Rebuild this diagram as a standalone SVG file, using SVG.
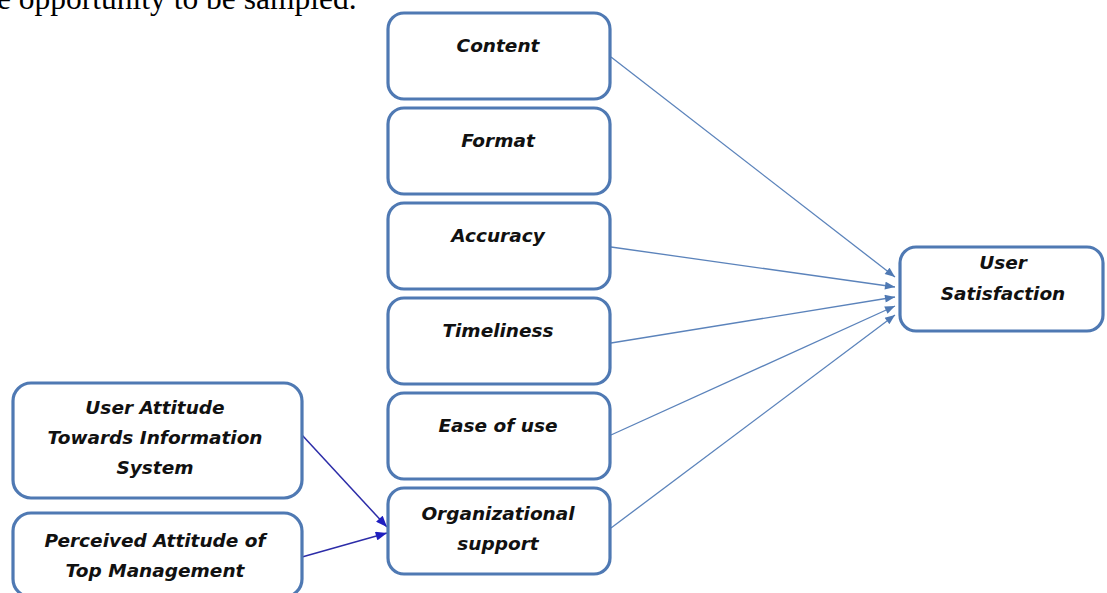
<svg xmlns="http://www.w3.org/2000/svg" width="1107" height="593" viewBox="0 0 1107 593">
<style>
.box{fill:#ffffff;stroke:#4f79b3;stroke-width:3.2}
.t{font-family:"DejaVu Sans",sans-serif;font-weight:bold;font-style:italic;font-size:18.5px;fill:#111;text-anchor:middle}
.c{stroke:#5b83bb;stroke-width:1.3;fill:none;marker-end:url(#ah)}
.b{stroke:#2c2ca8;stroke-width:1.5;fill:none;marker-end:url(#ahb)}
</style>
<defs>
<marker id="ah" viewBox="0 0 10 8" refX="10" refY="4" markerWidth="11" markerHeight="8" markerUnits="userSpaceOnUse" orient="auto"><path d="M0,0 L10,4 L0,8 z" fill="#4f79b3"/></marker>
<marker id="ahb" viewBox="0 0 10 8" refX="10" refY="4" markerWidth="12" markerHeight="9" markerUnits="userSpaceOnUse" orient="auto"><path d="M0,0 L10,4 L0,8 z" fill="#1f1fc0"/></marker>
</defs>
<rect width="1107" height="593" fill="#ffffff"/>
<text x="-3" y="9" font-family="'Liberation Serif',serif" font-size="31.5" fill="#000">e opportunity to be sampled.</text>
<g id="connectors">
<line class="c" x1="611" y1="57" x2="895" y2="277"/>
<line class="c" x1="611" y1="247" x2="895" y2="287"/>
<line class="c" x1="611" y1="343" x2="895" y2="297"/>
<line class="c" x1="611" y1="435" x2="895" y2="306"/>
<line class="c" x1="611" y1="528" x2="895" y2="315"/>
<line class="b" x1="302" y1="435" x2="387" y2="527"/>
<line class="b" x1="302" y1="557" x2="387" y2="533"/>
</g>
<g id="content"><rect class="box" x="388" y="13" width="222" height="86" rx="16"/><text class="t" x="498" y="52">Content</text></g>
<g id="format"><rect class="box" x="388" y="108" width="222" height="86" rx="16"/><text class="t" x="498" y="147">Format</text></g>
<g id="accuracy"><rect class="box" x="388" y="203" width="222" height="86" rx="16"/><text class="t" x="498" y="242">Accuracy</text></g>
<g id="timeliness"><rect class="box" x="388" y="298" width="222" height="86" rx="16"/><text class="t" x="498" y="337">Timeliness</text></g>
<g id="ease"><rect class="box" x="388" y="393" width="222" height="86" rx="16"/><text class="t" x="498" y="432">Ease of use</text></g>
<g id="org"><rect class="box" x="388" y="488" width="222" height="86" rx="16"/><text class="t" x="498" y="520">Organizational</text><text class="t" x="498" y="550">support</text></g>
<g id="satisfaction"><rect class="box" x="900" y="247" width="203" height="84" rx="16"/><text class="t" x="1003" y="269">User</text><text class="t" x="1003" y="300">Satisfaction</text></g>
<g id="attitude"><rect class="box" x="13" y="383" width="289" height="115" rx="18"/><text class="t" x="155" y="414">User Attitude</text><text class="t" x="155" y="444">Towards Information</text><text class="t" x="155" y="474">System</text></g>
<g id="perceived"><rect class="box" x="13" y="513" width="289" height="84" rx="18"/><text class="t" x="155" y="547">Perceived Attitude of</text><text class="t" x="155" y="577">Top Management</text></g>
</svg>
